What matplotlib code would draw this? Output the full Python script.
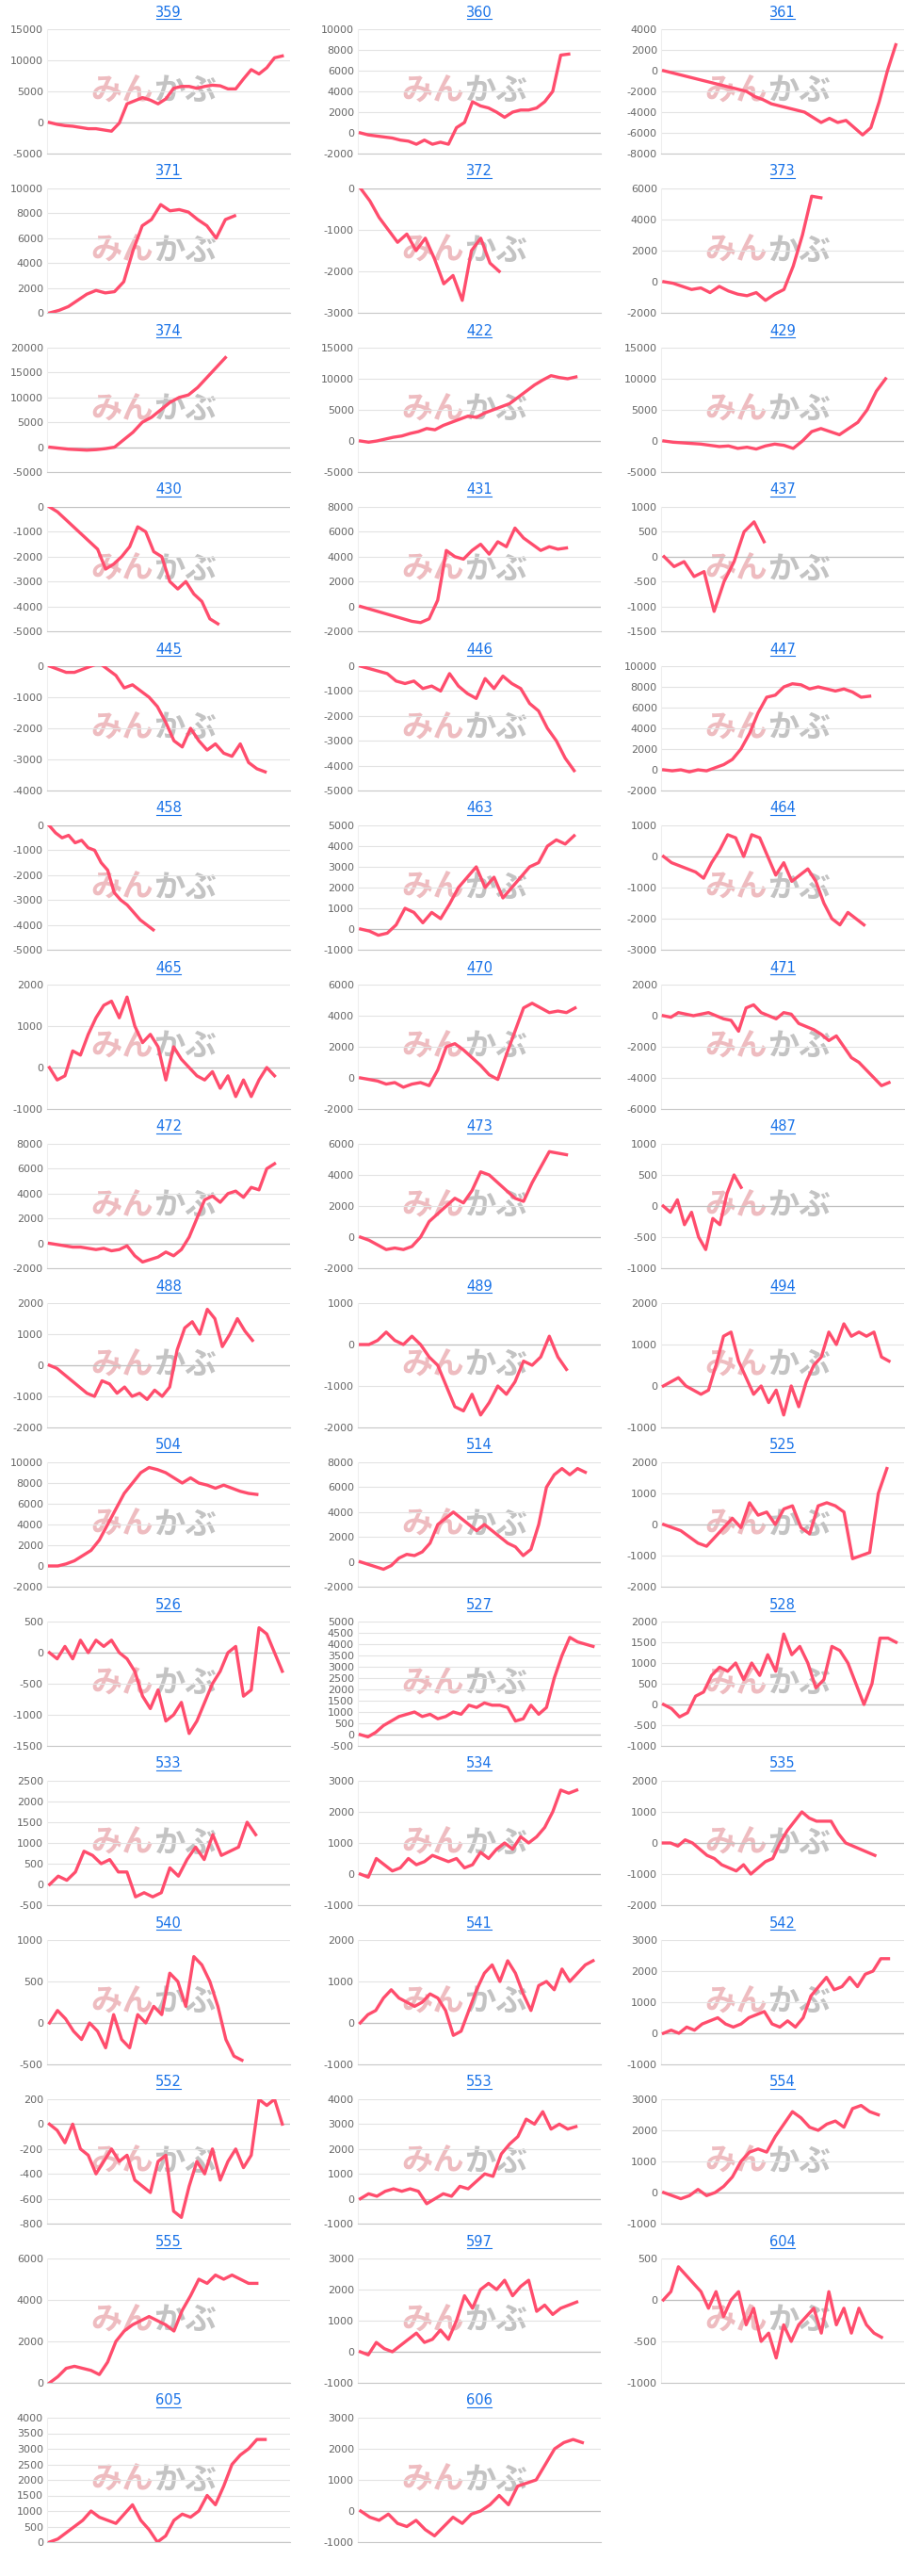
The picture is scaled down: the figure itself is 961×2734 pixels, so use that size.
import matplotlib
matplotlib.use("Agg")
import matplotlib.pyplot as plt
from matplotlib.lines import Line2D
import numpy as np

titles = ["359", "360", "361", "371", "372", "373", "374", "422", "429", "430", "431", "437",
          "445", "446", "447", "458", "463", "464", "465", "470", "471", "472", "473", "487",
          "488", "489", "494", "504", "514", "525", "526", "527", "528", "533", "534", "535",
          "540", "541", "542", "552", "553", "554", "555", "597", "604", "605", "606"]

# (ymin, ymax, step) per panel
yranges = [(-5000, 15000, 5000), (-2000, 10000, 2000), (-8000, 4000, 2000),
           (0, 10000, 2000), (-3000, 0, 1000), (-2000, 6000, 2000),
           (-5000, 20000, 5000), (-5000, 15000, 5000), (-5000, 15000, 5000),
           (-5000, 0, 1000), (-2000, 8000, 2000), (-1500, 1000, 500),
           (-4000, 0, 1000), (-5000, 0, 1000), (-2000, 10000, 2000),
           (-5000, 0, 1000), (-1000, 5000, 1000), (-3000, 1000, 1000),
           (-1000, 2000, 1000), (-2000, 6000, 2000), (-6000, 2000, 2000),
           (-2000, 8000, 2000), (-2000, 6000, 2000), (-1000, 1000, 500),
           (-2000, 2000, 1000), (-2000, 1000, 1000), (-1000, 2000, 1000),
           (-2000, 10000, 2000), (-2000, 8000, 2000), (-2000, 2000, 1000),
           (-1500, 500, 500), (-500, 5000, 500), (-1000, 2000, 500),
           (-500, 2500, 500), (-1000, 3000, 1000), (-2000, 2000, 1000),
           (-500, 1000, 500), (-1000, 2000, 1000), (-1000, 3000, 1000),
           (-800, 200, 200), (-1000, 4000, 1000), (-1000, 3000, 1000),
           (0, 6000, 2000), (-1000, 3000, 1000), (-1000, 500, 500),
           (0, 4000, 500), (-1000, 3000, 1000)]

# number of x slots on each axis
xspans = [31, 30, 29, 26, 26, 26, 26, 29, 26, 30, 28, 24,
          29, 27, 28, 37, 27, 30, 31, 28, 32, 31, 28, 34,
          32, 28, 32, 29, 31, 28, 31, 31, 30, 28, 30, 33,
          30, 31, 31, 31, 29, 28, 29, 30, 32, 29, 26]

series = [
    [0, -300, -500, -600, -800, -1000, -1000, -1200, -1400, -100, 3000, 3500, 4000, 3600, 3000, 3800, 5500, 5800, 5800, 5500, 5800, 6000, 5900, 5400, 5400, 7000, 8500, 7800, 8800, 10400, 10700],
    [0, -200, -300, -400, -500, -700, -800, -1100, -700, -1100, -900, -1100, 500, 1000, 3000, 2600, 2400, 2000, 1500, 2000, 2200, 2200, 2400, 3000, 4000, 7500, 7600],
    [0, -200, -400, -600, -800, -1000, -1200, -1400, -1600, -1800, -2000, -2500, -2800, -3200, -3400, -3600, -3800, -4000, -4500, -5000, -4600, -5000, -4800, -5500, -6200, -5500, -3000, 0, 2500],
    [0, 200, 500, 1000, 1500, 1800, 1600, 1700, 2500, 5000, 7000, 7500, 8700, 8200, 8300, 8100, 7500, 7000, 6000, 7500, 7800],
    [0, -300, -700, -1000, -1300, -1100, -1500, -1200, -1700, -2300, -2100, -2700, -1500, -1200, -1800, -2000],
    [0, -100, -300, -500, -400, -700, -300, -600, -800, -900, -700, -1200, -800, -500, 1000, 3000, 5500, 5400],
    [0, -200, -400, -500, -600, -500, -300, 0, 1500, 3000, 5000, 6000, 7500, 9000, 10000, 10500, 12000, 14000, 16000, 18000],
    [0, -200, 0, 300, 600, 800, 1200, 1500, 2000, 1800, 2500, 3000, 3500, 4000, 3800, 4500, 5000, 5500, 6000, 7000, 8000, 9000, 9800, 10500, 10200, 10000, 10300],
    [0, -200, -300, -400, -500, -700, -900, -800, -1200, -1000, -1300, -800, -500, -700, -1200, 0, 1500, 2000, 1500, 1000, 2000, 3000, 5000, 8000, 10000],
    [0, -200, -500, -800, -1100, -1400, -1700, -2500, -2300, -2000, -1600, -800, -1000, -1800, -2000, -3000, -3300, -3000, -3500, -3800, -4500, -4700],
    [0, -200, -400, -600, -800, -1000, -1200, -1300, -1000, 500, 4500, 4000, 3800, 4500, 5000, 4200, 5200, 4800, 6300, 5500, 5000, 4500, 4800, 4600, 4700],
    [0, -200, -100, -400, -300, -1100, -500, -100, 500, 700, 300],
    [0, -100, -200, -200, -100, 0, 100, -100, -300, -700, -600, -800, -1000, -1300, -1800, -2400, -2600, -2000, -2400, -2700, -2500, -2800, -2900, -2500, -3100, -3300, -3400],
    [0, -100, -200, -300, -600, -700, -600, -900, -800, -1000, -300, -800, -1100, -1300, -500, -900, -400, -700, -900, -1500, -1800, -2500, -3000, -3700, -4200],
    [0, -100, 0, -200, 0, -100, 200, 500, 1000, 2000, 3500, 5500, 7000, 7200, 8000, 8300, 8200, 7800, 8000, 7800, 7600, 7800, 7500, 7000, 7100],
    [0, -300, -500, -400, -700, -600, -900, -1000, -1500, -1800, -2700, -3000, -3200, -3500, -3800, -4000, -4200],
    [0, -100, -300, -200, 200, 1000, 800, 300, 800, 500, 1200, 2000, 2500, 3000, 2000, 2500, 1500, 2000, 2500, 3000, 3200, 4000, 4300, 4100, 4500],
    [0, -200, -300, -400, -500, -700, -200, 200, 700, 600, 0, 700, 600, 0, -600, -200, -800, -600, -400, -800, -1500, -2000, -2200, -1800, -2000, -2200],
    [0, -300, -200, 400, 300, 800, 1200, 1500, 1600, 1200, 1700, 1000, 600, 800, 500, -300, 500, 200, 0, -200, -300, -100, -500, -200, -700, -300, -700, -300, 0, -200],
    [0, -100, -200, -400, -300, -600, -400, -300, -500, 500, 2000, 2200, 1800, 1300, 800, 200, -100, 1500, 3000, 4500, 4800, 4500, 4200, 4300, 4200, 4500],
    [0, -100, 200, 100, 0, 100, 200, 0, -200, -300, -1000, 500, 700, 200, 0, -200, 200, 100, -500, -700, -900, -1200, -1600, -1300, -2000, -2700, -3000, -3500, -4000, -4500, -4300],
    [0, -100, -200, -300, -300, -400, -500, -400, -600, -500, -200, -1000, -1500, -1300, -1100, -700, -1000, -500, 500, 2000, 3500, 3800, 3300, 4000, 4200, 3700, 4500, 4300, 6000, 6400],
    [0, -200, -500, -800, -700, -800, -600, 0, 1000, 1500, 2000, 2500, 2200, 3000, 4200, 4000, 3500, 3000, 2500, 2300, 3500, 4500, 5500, 5400, 5300],
    [0, -100, 100, -300, -100, -500, -700, -200, -300, 200, 500, 300],
    [0, -100, -300, -500, -700, -900, -1000, -500, -600, -900, -700, -1000, -900, -1100, -800, -1000, -700, 500, 1200, 1400, 1000, 1800, 1500, 600, 1000, 1500, 1100, 800],
    [0, 0, 100, 300, 100, 0, 200, 0, -300, -500, -1000, -1500, -1600, -1200, -1700, -1400, -1000, -1200, -900, -400, -500, -300, 200, -300, -600],
    [0, 100, 200, 0, -100, -200, -100, 500, 1200, 1300, 600, 200, -200, 0, -400, -100, -700, 0, -500, 100, 500, 700, 1300, 1000, 1500, 1200, 1300, 1200, 1300, 700, 600],
    [0, 0, 200, 500, 1000, 1500, 2500, 4000, 5500, 7000, 8000, 9000, 9500, 9300, 9000, 8500, 8000, 8500, 8000, 7800, 7500, 7800, 7500, 7200, 7000, 6900],
    [0, -200, -400, -600, -300, 300, 600, 500, 800, 1500, 3000, 3500, 4000, 3500, 3000, 2500, 3000, 2500, 2000, 1500, 1200, 500, 1000, 3000, 6000, 7000, 7500, 7000, 7500, 7200],
    [0, -100, -200, -400, -600, -700, -400, -100, 200, -100, 700, 300, 400, 0, 500, 600, -100, -300, 600, 700, 600, 400, -1100, -1000, -900, 1000, 1800],
    [0, -100, 100, -100, 200, 0, 200, 100, 200, 0, -100, -300, -700, -900, -600, -1100, -1000, -800, -1300, -1100, -800, -500, -300, 0, 100, -700, -600, 400, 300, 0, -300],
    [0, -100, 100, 400, 600, 800, 900, 1000, 800, 900, 700, 800, 1000, 900, 1300, 1200, 1400, 1300, 1300, 1200, 600, 700, 1300, 900, 1200, 2500, 3500, 4300, 4100, 4000, 3900],
    [0, -100, -300, -200, 200, 300, 700, 900, 800, 1000, 600, 1000, 700, 1200, 800, 1700, 1200, 1400, 1000, 400, 600, 1400, 1300, 1000, 500, 0, 500, 1600, 1600, 1500],
    [0, 200, 100, 300, 800, 700, 500, 600, 300, 300, -300, -200, -300, -200, 400, 200, 600, 900, 600, 1200, 700, 800, 900, 1500, 1200],
    [0, -100, 500, 300, 100, 200, 500, 300, 400, 600, 500, 400, 500, 200, 300, 700, 500, 800, 1000, 800, 1200, 1000, 1200, 1500, 2000, 2700, 2600, 2700],
    [0, 0, -100, 100, 0, -200, -400, -500, -700, -800, -900, -700, -1000, -800, -600, -500, 0, 400, 700, 1000, 800, 700, 700, 700, 300, 0, -100, -200, -300, -400],
    [0, 150, 50, -100, -200, 0, -100, -300, 100, -200, -300, 100, 0, 200, 100, 600, 500, 200, 800, 700, 500, 200, -200, -400, -450],
    [0, 200, 300, 600, 800, 600, 500, 400, 500, 700, 600, 300, -300, -200, 300, 800, 1200, 1400, 1000, 1500, 1200, 700, 300, 900, 1000, 800, 1300, 1000, 1200, 1400, 1500],
    [0, 100, 0, 200, 100, 300, 400, 500, 300, 200, 300, 500, 600, 700, 300, 200, 400, 200, 500, 1200, 1500, 1800, 1400, 1500, 1800, 1500, 1900, 2000, 2400, 2400],
    [0, -50, -150, 0, -200, -250, -400, -300, -200, -300, -250, -450, -500, -550, -300, -250, -700, -750, -500, -300, -400, -200, -450, -300, -200, -350, -250, 200, 150, 200, 0],
    [0, 200, 100, 300, 400, 300, 400, 300, -200, 0, 200, 100, 500, 400, 700, 1000, 900, 1800, 2200, 2500, 3200, 3000, 3500, 2800, 3000, 2800, 2900],
    [0, -100, -200, -100, 100, -100, 0, 200, 500, 1000, 1300, 1400, 1300, 1800, 2200, 2600, 2400, 2100, 2000, 2200, 2300, 2100, 2700, 2800, 2600, 2500],
    [0, 300, 700, 800, 700, 600, 400, 1000, 2000, 2500, 2800, 3000, 3200, 3000, 2800, 2500, 3500, 4200, 5000, 4800, 5200, 5000, 5200, 5000, 4800, 4800],
    [0, -100, 300, 100, 0, 200, 400, 600, 300, 400, 700, 400, 1000, 1800, 1400, 2000, 2200, 2000, 2300, 1800, 2100, 2300, 1300, 1500, 1200, 1400, 1500, 1600],
    [0, 100, 400, 300, 200, 100, -100, 100, -200, 0, 100, -300, -100, -500, -400, -700, -300, -500, -300, -200, -100, -400, 100, -300, -100, -400, -100, -300, -400, -450],
    [0, 100, 300, 500, 700, 1000, 800, 700, 600, 900, 1200, 700, 400, 0, 200, 700, 900, 800, 1000, 1500, 1200, 1800, 2500, 2800, 3000, 3300, 3300],
    [0, -200, -300, -100, -400, -500, -300, -600, -800, -500, -200, -400, -100, 0, 200, 500, 200, 800, 900, 1000, 1500, 2000, 2200, 2300, 2200],
]

W, H = 961, 2734
fig = plt.figure(figsize=(W / 100, H / 100), dpi=100)
fig.patch.set_facecolor("white")

col_left = [50, 380, 702]
ax_w = 258
pitch = 169

for i, name in enumerate(titles):
    r, c = divmod(i, 3)
    ty = 13 + r * pitch
    top, bot = ty + 18, ty + 150
    left = col_left[c]
    ax = fig.add_axes([left / W, 1 - bot / H, ax_w / W, (bot - top) / H])
    ymin, ymax, step = yranges[i]
    ys = series[i]
    ax.plot(range(len(ys)), ys, color="#ff4d6d", lw=2.4, solid_joinstyle="round", zorder=3)
    ax.set_ylim(ymin, ymax)
    ax.set_xlim(-0.3, xspans[i])
    ticks = np.arange(ymin, ymax + step / 2, step)
    ax.set_yticks(ticks)
    ax.set_yticklabels([f"{int(t)}" for t in ticks])
    ax.set_xticks([])
    ax.tick_params(axis="y", length=0, labelsize=8, colors="#666666", pad=3)
    ax.grid(axis="y", color="#e3e3e3", lw=0.8)
    ax.axhline(0, color="#c0c0c0", lw=0.9, zorder=2)
    for s in ["top", "right"]:
        ax.spines[s].set_visible(False)
    ax.spines["bottom"].set_color("#c8c8c8")
    ax.spines["left"].set_color("#eeeeee")
    # watermark
    ax.text(0.44, 0.5, "みん", transform=ax.transAxes, ha="right", va="center",
            fontsize=24, fontweight="bold", style="italic", color="#e8a0a6", alpha=0.7,
            family=["Noto Sans CJK JP", "DejaVu Sans"], zorder=1)
    ax.text(0.44, 0.5, "かぶ", transform=ax.transAxes, ha="left", va="center",
            fontsize=24, fontweight="bold", style="italic", color="#aaaaaa", alpha=0.7,
            family=["Noto Sans CJK JP", "DejaVu Sans"], zorder=1)
    # title with underline
    cx = left + ax_w / 2
    fig.text(cx / W, 1 - ty / H, name, ha="center", va="center", fontsize=10.5, color="#1a73e8")
    fig.add_artist(Line2D([(cx - 13) / W, (cx + 13) / W], [1 - (ty + 7) / H] * 2,
                          color="#1a73e8", lw=0.8))

fig.savefig("out.png", dpi=100)
